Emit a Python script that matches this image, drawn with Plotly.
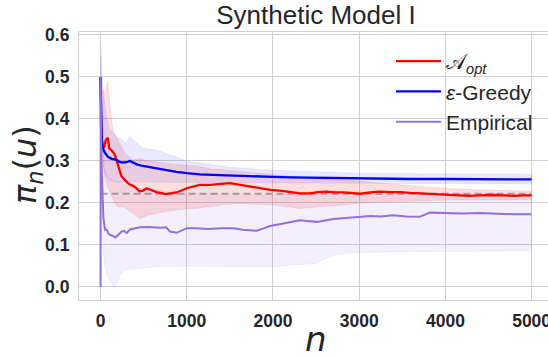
import plotly.graph_objects as go

# ---------------- data ----------------
n_red = [0, 5, 20, 40, 60, 85, 100, 130, 165, 185, 210, 240, 280, 330, 400, 450,
         490, 535, 570, 650, 760, 880, 1000, 1150, 1270, 1400, 1500, 1620, 1730,
         1850, 1970, 2100, 2200, 2320, 2430, 2520, 2620, 2720, 2820, 2920, 3010,
         3130, 3240, 3360, 3470, 3590, 3700, 3820, 3930, 4050, 4180, 4280, 4400,
         4550, 4680, 4800, 4900, 5000]
red_mean = [0.50, 0.38, 0.34, 0.33, 0.35, 0.355, 0.33, 0.325, 0.315, 0.30, 0.285,
            0.265, 0.255, 0.245, 0.238, 0.228, 0.229, 0.235, 0.232, 0.226, 0.221,
            0.225, 0.235, 0.243, 0.243, 0.245, 0.247, 0.243, 0.239, 0.235, 0.231,
            0.229, 0.227, 0.223, 0.223, 0.226, 0.227, 0.225, 0.225, 0.223, 0.222,
            0.225, 0.227, 0.226, 0.226, 0.224, 0.223, 0.222, 0.221, 0.219, 0.218,
            0.217, 0.218, 0.219, 0.218, 0.217, 0.218, 0.218]

n_red_band = [0, 20, 50, 70, 85, 100, 125, 150, 180, 220, 260, 300, 376, 453, 550,
              647, 760, 840, 1000, 1150, 1300, 1420, 1617, 2003, 2314, 2500, 2800,
              3000, 3250, 3500, 3750, 4000, 4300, 4600, 5000]
red_upper = [0.50, 0.47, 0.46, 0.48, 0.49, 0.45, 0.398, 0.37, 0.358, 0.34, 0.326,
             0.315, 0.302, 0.306, 0.30, 0.298, 0.295, 0.292, 0.29, 0.286, 0.28,
             0.279, 0.275, 0.268, 0.262, 0.258, 0.255, 0.252, 0.248, 0.243, 0.238,
             0.235, 0.232, 0.23, 0.228]
red_lower = [0.50, 0.30, 0.26, 0.245, 0.235, 0.231, 0.22, 0.207, 0.195, 0.19, 0.191,
             0.186, 0.176, 0.163, 0.171, 0.175, 0.18, 0.183, 0.186, 0.188, 0.192,
             0.196, 0.199, 0.195, 0.187, 0.19, 0.195, 0.2, 0.202, 0.203, 0.205,
             0.207, 0.207, 0.208, 0.208]

n_blue = [0, 3, 8, 15, 25, 50, 85, 130, 180, 220, 260, 300, 340, 380, 420, 490, 570,
          650, 760, 880, 1000, 1150, 1300, 1420, 1600, 1810, 2000, 2200, 2500, 2800,
          3000, 3300, 3600, 4000, 4300, 4600, 5000]
blue_mean = [0.50, 0.45, 0.38, 0.35, 0.33, 0.32, 0.31, 0.305, 0.303, 0.298, 0.296,
             0.297, 0.30, 0.295, 0.292, 0.288, 0.285, 0.281, 0.277, 0.274, 0.271,
             0.268, 0.267, 0.266, 0.264, 0.263, 0.262, 0.261, 0.26, 0.259, 0.258,
             0.258, 0.257, 0.257, 0.257, 0.256, 0.256]

n_blue_band = [0, 5, 20, 50, 93, 182, 260, 298, 337, 380, 492, 647, 880, 1000, 1250,
               1500, 2000, 2500, 3000, 4000, 5000]
blue_upper = [0.58, 0.55, 0.50, 0.43, 0.38, 0.358, 0.35, 0.342, 0.358, 0.35, 0.33,
              0.326, 0.31, 0.30, 0.292, 0.285, 0.278, 0.274, 0.271, 0.269, 0.268]
blue_lower = [0.42, 0.36, 0.30, 0.27, 0.255, 0.25, 0.25, 0.25, 0.25, 0.25, 0.25,
              0.25, 0.25, 0.25, 0.25, 0.249, 0.249, 0.248, 0.247, 0.246, 0.245]

n_emp = [0, 2, 5, 10, 20, 32, 52, 72, 90, 110, 140, 168, 206, 245, 275, 303, 342,
         400, 458, 550, 610, 690, 760, 805, 883, 950, 999, 1100, 1250, 1400, 1539,
         1650, 1810, 1900, 1965, 2120, 2310, 2400, 2510, 2700, 2900, 3010, 3130,
         3250, 3390, 3550, 3700, 3820, 4000, 4200, 4400, 4600, 4800, 5000]
emp_mean = [0.0, 0.50, 0.40, 0.30, 0.22, 0.167, 0.136, 0.136, 0.128, 0.124, 0.122,
            0.118, 0.124, 0.132, 0.133, 0.128, 0.137, 0.139, 0.142, 0.143, 0.142,
            0.141, 0.142, 0.132, 0.129, 0.136, 0.14, 0.14, 0.138, 0.14, 0.14, 0.136,
            0.134, 0.14, 0.145, 0.151, 0.159, 0.157, 0.155, 0.162, 0.166, 0.167,
            0.169, 0.168, 0.171, 0.168, 0.167, 0.177, 0.176, 0.175, 0.176, 0.174,
            0.173, 0.173]

n_emp_band = [0, 2, 10, 25, 47, 93, 130, 165, 200, 220, 260, 298, 453, 647, 1000,
              1500, 2000, 2200, 2500, 2600, 2700, 3000, 3500, 4000, 5000]
emp_upper = [0.0, 0.55, 0.45, 0.33, 0.28, 0.26, 0.255, 0.25, 0.25, 0.25, 0.245,
             0.24, 0.235, 0.23, 0.225, 0.22, 0.22, 0.22, 0.22, 0.22, 0.22, 0.22,
             0.22, 0.22, 0.22]
emp_lower = [0.0, 0.45, 0.20, 0.10, 0.048, 0.017, 0.005, -0.003, 0.015, 0.025,
             0.035, 0.04, 0.044, 0.048, 0.05, 0.048, 0.048, 0.052, 0.056, 0.066,
             0.076, 0.082, 0.084, 0.085, 0.086]

ref_level = 0.222
ref_n = [0, 5000]

x_ticks = [0, 1000, 2000, 3000, 4000, 5000]
y_ticks = [0.0, 0.1, 0.2, 0.3, 0.4, 0.5, 0.6]
y_tick_labels = ["0.0", "0.1", "0.2", "0.3", "0.4", "0.5", "0.6"]

labels = ["𝒜<sub><i>opt</i></sub>", "<i>ε</i>-Greedy", "Empirical"]
title_text = "Synthetic Model I"

# ---------------- figure ----------------
fig = go.Figure()


def band(n, up, lo, rgba):
    fig.add_trace(go.Scatter(
        x=list(n) + list(n)[::-1], y=list(up) + list(lo)[::-1],
        fill="toself", fillcolor=rgba, mode="lines",
        line=dict(width=0.8, color=rgba), hoverinfo="skip", showlegend=False))


band(n_red_band, red_upper, red_lower, "rgba(255,0,0,0.13)")
band(n_blue_band, blue_upper, blue_lower, "rgba(0,0,255,0.09)")
band(n_emp_band, emp_upper, emp_lower, "rgba(147,112,219,0.11)")

fig.add_trace(go.Scatter(x=ref_n, y=[ref_level, ref_level], mode="lines",
                         line=dict(color="rgba(140,140,140,0.8)", width=2, dash="7px,4px"),
                         showlegend=False, hoverinfo="skip"))

fig.add_trace(go.Scatter(x=n_red, y=red_mean, mode="lines", name=labels[0],
                         legendgroup="a", line=dict(color="#ff0000", width=2.3)))
fig.add_trace(go.Scatter(x=n_blue, y=blue_mean, mode="lines", name=labels[1],
                         legendgroup="b", line=dict(color="#0000ff", width=2.3)))
fig.add_trace(go.Scatter(x=n_emp, y=emp_mean, mode="lines", name=labels[2],
                         legendgroup="c", line=dict(color="#9370db", width=2)))

W, H = 548, 358
ml, mr, mt, mb = 79, 0, 32, 58
pw, ph = W - ml - mr, H - mt - mb

fig.update_layout(
    width=W, height=H,
    margin=dict(l=ml, r=mr, t=mt, b=mb),
    plot_bgcolor="white", paper_bgcolor="white",
    font=dict(family="Liberation Sans, Arial, sans-serif", color="#262626"),
    title=dict(text=title_text, x=316 / W, xanchor="center",
               y=1 - 15 / H, yanchor="middle", yref="container",
               font=dict(size=26, color="#262626")),
    showlegend=True,
    legend=dict(x=(391 - ml) / pw, y=(H - mb - 41) / ph, xanchor="left", yanchor="top",
                bgcolor="rgba(0,0,0,0)", borderwidth=0, tracegroupgap=0,
                font=dict(size=21, color="#262626"), itemwidth=45),
)

common = dict(showgrid=True, gridcolor="#d0d0d0", gridwidth=1,
              showline=True, linecolor="#d0d0d0", linewidth=1.2, mirror=True,
              zeroline=False, ticks="", automargin=False,
              tickfont=dict(size=17.5, color="#262626", family="Liberation Sans"),
              ticklabelstandoff=5)
fig.update_xaxes(range=[-250, 5190], tickvals=x_ticks,
                 ticktext=["<b>%d</b>" % t for t in x_ticks],
                 ticklabeloverflow="allow", **common)
fig.update_yaxes(range=[-0.031, 0.607], tickvals=y_ticks,
                 ticktext=["<b>%s</b>" % t for t in y_tick_labels], **common)

# axis labels
fig.add_annotation(text="<i>n</i>", xref="paper", yref="paper",
                   x=(316 - ml) / pw, y=-(339 - (H - mb)) / ph,
                   xanchor="center", yanchor="middle", showarrow=False,
                   font=dict(size=34, family="DejaVu Sans", color="#262626"))
fig.add_annotation(text="<i>π<sub>n</sub></i>(<i>u</i>)", xref="paper", yref="paper",
                   x=(27 - ml) / pw, y=((H - mb) - 165) / ph, textangle=-90,
                   xanchor="center", yanchor="middle", showarrow=False,
                   font=dict(size=32, family="DejaVu Sans", color="#262626"))

fig.write_html("out.html", config={"displayModeBar": False},
               post_script="document.body.style.margin='0px';document.body.style.overflow='hidden';")
